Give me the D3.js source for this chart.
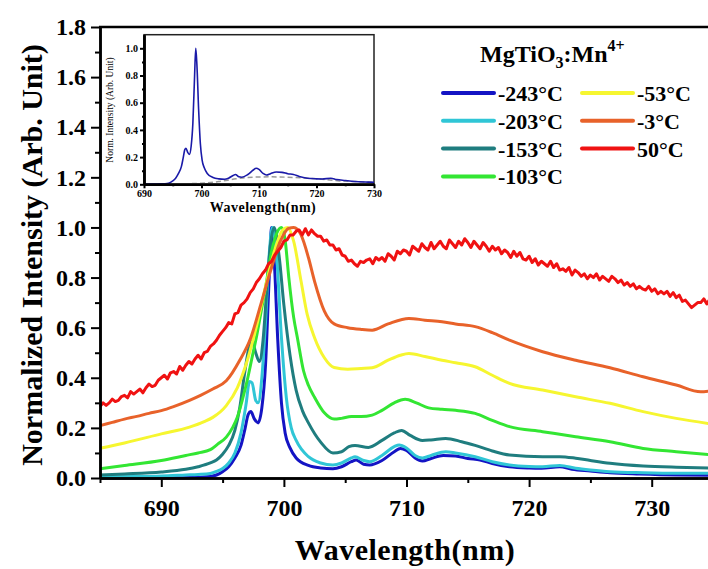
<!DOCTYPE html>
<html>
<head>
<meta charset="utf-8">
<script src="https://cdn.jsdelivr.net/npm/d3@7"></script>
<style>
    body { margin: 0; background: #fff; }
    text { font-family: "Liberation Serif", "Times New Roman", serif; }
</style>
</head>
<body>
<svg id="chart" width="708" height="569"></svg>
<script>
//spectra, pairs of [wavelength nm, normalized intensity]
const s243 = [[685,0.0],[688,0.0],[691,0.001],[693,0.003],[694,0.006],[694.5,0.012],[695,0.025],[695.5,0.045],[696,0.08],[696.5,0.13],[696.8,0.19],[697.1,0.255],[697.3,0.265],[697.6,0.235],[697.9,0.22],[698.2,0.28],[698.5,0.45],[698.8,0.8],[699.0,1.0],[699.2,0.88],[699.5,0.55],[699.8,0.3],[700.1,0.18],[700.5,0.12],[701,0.08],[702,0.05],[703,0.04],[704,0.037],[704.7,0.045],[705.5,0.065],[705.9,0.072],[706.5,0.055],[707,0.052],[708,0.07],[709,0.105],[709.5,0.118],[710,0.11],[710.7,0.08],[711.3,0.068],[712,0.078],[713,0.09],[714,0.088],[715,0.078],[716,0.072],[717,0.058],[718.4,0.045],[720,0.04],[721,0.039],[722.5,0.045],[723.5,0.035],[725,0.028],[726.6,0.021],[729,0.016],[732,0.012],[735,0.011]];
const s203 = [[685,0.005],[688,0.006],[690,0.008],[692,0.012],[693,0.014],[694,0.018],[694.5,0.026],[695,0.038],[695.5,0.06],[696,0.1],[696.5,0.18],[696.9,0.29],[697.2,0.385],[697.4,0.38],[697.7,0.31],[697.9,0.3],[698.2,0.4],[698.5,0.62],[698.8,0.89],[699.05,1.0],[699.4,0.89],[699.8,0.56],[700.2,0.32],[700.6,0.2],[701,0.15],[702,0.085],[703,0.06],[704,0.052],[704.7,0.06],[705.5,0.08],[705.8,0.085],[706.5,0.07],[707,0.065],[708,0.09],[709,0.125],[709.4,0.132],[710,0.12],[710.7,0.09],[711.3,0.08],[712,0.09],[713.2,0.105],[714,0.1],[715.6,0.085],[717,0.065],[718.4,0.052],[720,0.046],[721.1,0.045],[722.5,0.05],[723.8,0.039],[725,0.032],[726.6,0.025],[729.3,0.021],[732,0.019],[735,0.019]];
const s153 = [[685,0.012],[687,0.016],[690,0.024],[692,0.035],[693,0.045],[694,0.06],[694.5,0.072],[695,0.095],[695.5,0.13],[696,0.19],[696.4,0.28],[696.8,0.42],[697.2,0.53],[697.4,0.547],[697.7,0.5],[698,0.465],[698.3,0.55],[698.6,0.75],[698.9,0.93],[699.2,1.0],[699.6,0.89],[700,0.69],[700.5,0.49],[701,0.35],[701.5,0.27],[702,0.22],[703,0.143],[704,0.1],[704.7,0.105],[705.3,0.125],[705.8,0.13],[706.9,0.122],[708,0.15],[709,0.18],[709.6,0.19],[710.3,0.17],[711.3,0.15],[712,0.152],[713.2,0.158],[714.5,0.145],[715.6,0.13],[717,0.108],[718.4,0.092],[721.1,0.085],[722.5,0.085],[723.8,0.079],[725,0.07],[726.6,0.059],[729.3,0.048],[732,0.043],[735,0.04]];
const s103 = [[685,0.037],[687,0.05],[690,0.07],[692,0.09],[693,0.1],[694,0.113],[694.6,0.135],[695.3,0.163],[695.8,0.2],[696.2,0.242],[696.6,0.31],[697,0.388],[697.4,0.48],[697.8,0.573],[698.2,0.68],[698.5,0.759],[699,0.905],[699.4,0.975],[699.8,1.0],[700.1,0.95],[700.4,0.8],[700.8,0.64],[701.1,0.56],[701.6,0.428],[702,0.37],[702.5,0.322],[703.3,0.26],[704.1,0.235],[704.7,0.238],[705.5,0.245],[706.3,0.245],[707.2,0.251],[708,0.27],[709,0.3],[709.9,0.314],[710.8,0.3],[711.8,0.28],[712.9,0.274],[714,0.27],[715.6,0.258],[717,0.23],[718.4,0.205],[721.1,0.185],[723.8,0.165],[726.6,0.145],[729.3,0.118],[732,0.105],[735,0.092]];
const s53 = [[685,0.119],[687,0.14],[690,0.176],[692.3,0.203],[693.5,0.225],[694.2,0.242],[695.3,0.289],[696.2,0.36],[697,0.467],[697.8,0.613],[698.6,0.785],[699.3,0.918],[699.9,0.99],[700.3,1.0],[700.8,0.944],[701.4,0.785],[701.9,0.653],[702.5,0.56],[703.3,0.48],[704.1,0.441],[705.2,0.434],[706.3,0.437],[707.2,0.44],[708.5,0.47],[709.5,0.49],[710.2,0.497],[711.5,0.485],[712.9,0.47],[714,0.46],[715.6,0.444],[717,0.41],[718.4,0.378],[721.1,0.351],[723.8,0.324],[726.6,0.298],[729.3,0.265],[732,0.238],[735,0.215]];
const s3 = [[685,0.209],[686,0.222],[687,0.235],[688,0.246],[689,0.258],[690,0.269],[691,0.285],[692.3,0.31],[693.2,0.33],[694.2,0.355],[695.3,0.388],[696.4,0.47],[697.3,0.56],[698.1,0.69],[698.9,0.825],[699.7,0.944],[700.4,0.997],[700.8,1.0],[701.4,0.97],[702,0.88],[702.5,0.785],[703.3,0.666],[704.1,0.615],[705.2,0.6],[706.3,0.593],[707.2,0.59],[708.5,0.615],[710.2,0.637],[711.5,0.63],[712.9,0.624],[714,0.615],[715.6,0.604],[717,0.58],[718.4,0.55],[721.1,0.504],[723.8,0.47],[726.6,0.44],[729.3,0.404],[732,0.371],[734,0.344],[735,0.35]];

//the 50 C spectrum is noisy, so it is kept at a finer step
const wl50 = d3.range(685, 735.001, 0.25);
const v50 = [
    0.285,0.30,0.29,0.30, 0.315,0.305,0.31,0.325, 0.33,0.32,0.345,0.335, 0.345,0.355,0.34,0.36,
    0.375,0.365,0.37,0.39, 0.40,0.41,0.395,0.42, 0.425,0.415,0.445,0.43, 0.45,0.465,0.455,0.475,
    0.49,0.475,0.50,0.505, 0.525,0.535,0.55,0.57, 0.585,0.60,0.62,0.615, 0.655,0.66,0.69,0.70,
    0.715,0.74,0.755,0.78, 0.795,0.815,0.83,0.855, 0.865,0.89,0.905,0.92, 0.945,0.95,0.97,0.97,
    0.985,0.99,0.97,0.995, 0.97,0.99,0.975,0.965, 0.965,0.945,0.95,0.93, 0.93,0.91,0.915,0.89,
    0.885,0.865,0.87,0.855, 0.845,0.865,0.86,0.87, 0.875,0.855,0.88,0.87, 0.88,0.865,0.895,0.885,
    0.87,0.905,0.895,0.91, 0.905,0.89,0.925,0.915, 0.905,0.935,0.92,0.91, 0.94,0.915,0.93,0.945,
    0.925,0.915,0.95,0.935, 0.92,0.945,0.93,0.955, 0.94,0.92,0.945,0.93, 0.915,0.94,0.925,0.905,
    0.925,0.91,0.92,0.895, 0.91,0.90,0.88,0.905, 0.885,0.90,0.875,0.87, 0.885,0.86,0.875,0.85,
    0.865,0.855,0.845,0.865, 0.84,0.855,0.83,0.835, 0.825,0.84,0.81,0.83, 0.82,0.805,0.815,0.795,
    0.81,0.80,0.815,0.79, 0.805,0.795,0.785,0.805, 0.795,0.78,0.79,0.77, 0.78,0.765,0.775,0.755,
    0.765,0.755,0.75,0.765, 0.745,0.755,0.735,0.745, 0.735,0.745,0.725,0.74, 0.72,0.73,0.705,0.71,
    0.695,0.68,0.69,0.70, 0.70,0.715,0.695,0.715, 0.71
];
const s50 = wl50.map((w, i) => [w, v50[i]]);

//dashed grey curve of the inset
const insetDashed = [[690,0.0],[696,0.003],[700,0.008],[703,0.02],[706,0.04],[708,0.05],[712,0.055],[716,0.05],[720,0.04],[724,0.025],[727,0.02],[730,0.015]];

const labels = ["-243°C", "-203°C", "-153°C", "-103°C", "-53°C", "-3°C", "50°C"];
const spectra = [s243, s203, s153, s103, s53, s3, s50];
const colors = ["#1414c4", "#30c6d6", "#1f7d7f", "#33e633", "#f6f630", "#e8622a", "#f01212"];

const xMajor = [690, 700, 710, 720, 730];
const xMinor = [685, 695, 705, 715, 725, 735];
const yMajor = [0, 0.2, 0.4, 0.6, 0.8, 1.0, 1.2, 1.4, 1.6, 1.8];
const yMinor = [0.1, 0.3, 0.5, 0.7, 0.9, 1.1, 1.3, 1.5, 1.7];
const insetXMajor = [690, 700, 710, 720, 730];
const insetXMinor = [695, 705, 715, 725];
const insetYMajor = [0, 0.2, 0.4, 0.6, 0.8, 1.0];
const insetYMinor = [0.1, 0.3, 0.5, 0.7, 0.9];

const svg = d3.select("#chart");

//scales for the main plot
const x = d3.scaleLinear().domain([685, 735]).range([100, 713]);
const y = d3.scaleLinear().domain([0, 1.8]).range([478, 27]);

//spectra, coldest first so red ends on top
const smooth = d3.line().x(d => x(d[0])).y(d => y(d[1])).curve(d3.curveMonotoneX);
const noisy = d3.line().x(d => x(d[0])).y(d => y(d[1]));
svg.selectAll(".spectrum")
    .data(spectra).enter()
    .append("path")
    .attr("class", "spectrum")
    .attr("d", (d, i) => i == 6 ? noisy(d) : smooth(d))
    .attr("fill", "none")
    .attr("stroke", (d, i) => colors[i])
    .attr("stroke-width", 3)
    .attr("stroke-linejoin", "round");

//make ticks and labels look like the origin plot
function styleAxis(g, size) {
    g.selectAll("path").attr("stroke", "black").attr("stroke-width", 2.5);
    g.selectAll("line").attr("stroke", "black").attr("stroke-width", 2);
    g.selectAll("text")
        .attr("font-size", size)
        .attr("font-weight", "bold")
        .attr("font-family", "Liberation Serif, Times New Roman, serif")
        .attr("fill", "black");
}

//main axes, minor ticks first then major ticks with labels
svg.append("g")
    .attr("transform", "translate(0,478)")
    .call(d3.axisBottom(x).tickValues(xMinor).tickSize(5).tickSizeOuter(0).tickFormat(""))
    .call(g => styleAxis(g, 24));
svg.append("g")
    .attr("transform", "translate(0,478)")
    .call(d3.axisBottom(x).tickValues(xMajor).tickSize(9).tickSizeOuter(0).tickPadding(12).tickFormat(d3.format("d")))
    .call(g => styleAxis(g, 24));

svg.append("g")
    .attr("transform", "translate(100,0)")
    .call(d3.axisLeft(y).tickValues(yMinor).tickSize(5).tickSizeOuter(0).tickFormat(""))
    .call(g => styleAxis(g, 24));
svg.append("g")
    .attr("transform", "translate(100,0)")
    .call(d3.axisLeft(y).tickValues(yMajor).tickSize(9).tickSizeOuter(0).tickPadding(5).tickFormat(d3.format(".1f")))
    .call(g => styleAxis(g, 24));

//top frame line
svg.append("line")
    .attr("x1", 99)
    .attr("x2", 708)
    .attr("y1", 27)
    .attr("y2", 27)
    .attr("stroke", "black")
    .attr("stroke-width", 2.5);

//axis titles
svg.append("text")
    .attr("x", 405)
    .attr("y", 560)
    .attr("text-anchor", "middle")
    .attr("font-size", 30)
    .attr("font-weight", "bold")
    .attr("letter-spacing", 0.5)
    .text("Wavelength(nm)");
svg.append("text")
    .attr("transform", "translate(42,255) rotate(-90)")
    .attr("text-anchor", "middle")
    .attr("font-size", 30)
    .attr("font-weight", "bold")
    .text("Normalized Intensity (Arb. Unit)");

//legend title with sub and superscript
const title = svg.append("text")
    .attr("x", 480)
    .attr("y", 62)
    .attr("font-size", 24)
    .attr("font-weight", "bold");
title.append("tspan").text("MgTiO");
title.append("tspan").attr("font-size", 16).attr("dy", 6).text("3");
title.append("tspan").attr("dy", -6).text(":Mn");
title.append("tspan").attr("font-size", 16).attr("dy", -11).text("4+");

//legend entries in two columns
const legend = svg.selectAll(".legend-item")
    .data(labels).enter()
    .append("g")
    .attr("class", "legend-item")
    .attr("transform", (d, i) => {
        const col = i < 4 ? 0 : 1;
        const row = i < 4 ? i : i - 4;
        return "translate(" + (443 + col * 139) + "," + (93 + row * 27.8) + ")";
    });
legend.append("line")
    .attr("x1", 0)
    .attr("x2", 51)
    .attr("stroke", (d, i) => colors[i])
    .attr("stroke-width", 4)
    .attr("stroke-linecap", "round");
legend.append("text")
    .attr("x", 55)
    .attr("y", 8)
    .attr("font-size", 22)
    .attr("font-weight", "bold")
    .text(d => d);

//inset with the lowest temperature spectrum
const xi = d3.scaleLinear().domain([690, 730]).range([144, 374]);
const yi = d3.scaleLinear().domain([0, 1.1]).range([184.3, 34.7]);

svg.append("rect")
    .attr("x", 144)
    .attr("y", 34.7)
    .attr("width", 230)
    .attr("height", 149.6)
    .attr("fill", "white")
    .attr("stroke", "#222")
    .attr("stroke-width", 1.5);

svg.append("clipPath")
    .attr("id", "inset-clip")
    .append("rect")
    .attr("x", 144)
    .attr("y", 34.7)
    .attr("width", 230)
    .attr("height", 149.6);

const insetLine = d3.line().x(d => xi(d[0])).y(d => yi(d[1])).curve(d3.curveMonotoneX);
svg.append("path")
    .attr("d", insetLine(insetDashed))
    .attr("clip-path", "url(#inset-clip)")
    .attr("fill", "none")
    .attr("stroke", "#999")
    .attr("stroke-width", 1.5)
    .attr("stroke-dasharray", "5,3");
svg.append("path")
    .attr("d", insetLine(s243))
    .attr("clip-path", "url(#inset-clip)")
    .attr("fill", "none")
    .attr("stroke", "#1a1aa8")
    .attr("stroke-width", 1.6);

svg.append("g")
    .attr("transform", "translate(0,184.3)")
    .call(d3.axisBottom(xi).tickValues(insetXMinor).tickSize(2).tickSizeOuter(0).tickFormat(""))
    .call(g => styleAxis(g, 10));
svg.append("g")
    .attr("transform", "translate(0,184.3)")
    .call(d3.axisBottom(xi).tickValues(insetXMajor).tickSize(4).tickSizeOuter(0).tickPadding(2).tickFormat(d3.format("d")))
    .call(g => styleAxis(g, 10));
svg.append("g")
    .attr("transform", "translate(144,0)")
    .call(d3.axisLeft(yi).tickValues(insetYMinor).tickSize(2).tickSizeOuter(0).tickFormat(""))
    .call(g => styleAxis(g, 10));
svg.append("g")
    .attr("transform", "translate(144,0)")
    .call(d3.axisLeft(yi).tickValues(insetYMajor).tickSize(4).tickSizeOuter(0).tickPadding(2).tickFormat(d3.format(".1f")))
    .call(g => styleAxis(g, 10));

//inset titles
svg.append("text")
    .attr("x", 263)
    .attr("y", 212)
    .attr("text-anchor", "middle")
    .attr("font-size", 14)
    .attr("font-weight", "bold")
    .attr("letter-spacing", 0.5)
    .text("Wavelength(nm)");
svg.append("text")
    .attr("transform", "translate(113,110) rotate(-90)")
    .attr("text-anchor", "middle")
    .attr("font-size", 9.5)
    .text("Norm. Intensity (Arb. Unit)");
</script>
</body>
</html>
